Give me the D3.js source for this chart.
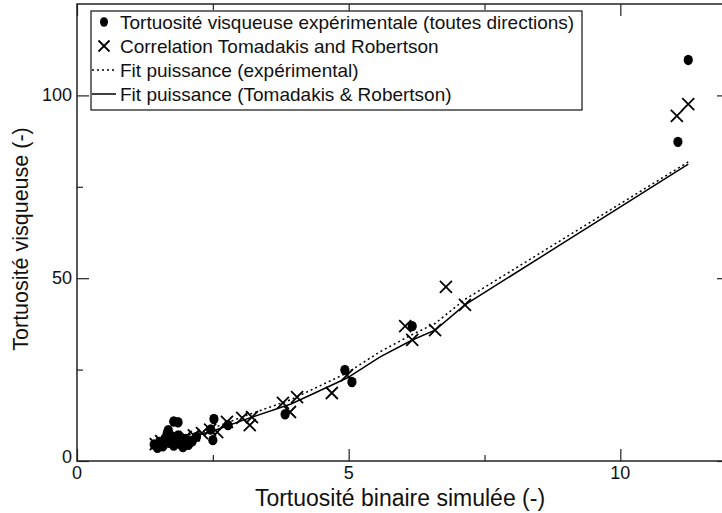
<!DOCTYPE html>
<html>
<head>
<meta charset="utf-8">
<script src="https://cdn.jsdelivr.net/npm/d3@7"></script>
<style>
  html, body { margin: 0; padding: 0; background: #fff; }
  svg { display: block; font-family: "Liberation Sans", Arial, Helvetica, sans-serif; }
</style>
</head>
<body>
<svg id="chart" width="722" height="513"></svg>
<script>
// Experimental viscous tortuosity (all directions)
const expX = [1.42, 1.48, 1.52, 1.58, 1.62, 1.66, 1.70, 1.74, 1.78, 1.82, 1.86, 1.90, 1.95, 2.00, 2.05, 2.12, 1.78, 1.86, 1.68, 2.20, 2.52, 2.50, 2.46, 2.78, 3.83, 4.93, 5.06, 6.17, 11.06, 11.25];
const expY = [4.5, 3.6, 5.2, 4.0, 6.2, 7.6, 5.0, 6.8, 4.2, 5.8, 7.0, 4.6, 3.8, 6.0, 4.4, 5.4, 10.8, 10.6, 8.4, 6.6, 11.5, 5.7, 8.6, 9.8, 12.8, 24.9, 21.6, 36.9, 87.3, 109.7];

// Tomadakis & Robertson correlation
const trX = [1.45, 1.55, 1.65, 1.80, 1.90, 2.00, 2.15, 2.30, 2.45, 2.58, 2.76, 3.04, 3.18, 3.22, 3.79, 3.92, 4.05, 4.69, 4.97, 6.04, 6.17, 6.59, 6.79, 7.14, 11.04, 11.25];
const trY = [4.6, 5.4, 4.8, 6.0, 5.4, 6.6, 7.0, 7.6, 8.6, 7.9, 10.7, 11.8, 9.8, 12.0, 15.9, 13.4, 17.5, 18.6, 23.5, 36.9, 33.1, 35.8, 47.6, 42.7, 94.4, 97.6];

// Power-law fit through the experimental points
const fitExpX = [1.44, 2.50, 3.18, 3.94, 4.97, 5.58, 6.17, 6.59, 7.14, 11.25];
const fitExpY = [4.4, 9.0, 12.8, 16.8, 24.1, 29.9, 34.6, 37.6, 44.2, 81.8];

// Power-law fit through the Tomadakis & Robertson points
const fitTrX = [1.44, 2.50, 3.18, 3.94, 4.97, 5.58, 6.17, 6.59, 7.14, 11.25];
const fitTrY = [4.1, 8.2, 11.8, 15.6, 22.7, 28.5, 33.1, 35.8, 42.7, 81.2];

const xMajor = [0, 5, 10];
const xMinor = [2.5, 7.5];
const yMajor = [0, 50, 100];
const yMinor = [25, 75];

const legendLabels = [
  "Tortuosité visqueuse expérimentale (toutes directions)",
  "Correlation Tomadakis and Robertson",
  "Fit puissance (expérimental)",
  "Fit puissance (Tomadakis & Robertson)"
];
const xTitle = "Tortuosité binaire simulée (-)";
const yTitle = "Tortuosité visqueuse (-)";

const svg = d3.select("#chart");
const plotL = 77, plotR = 729, plotT = 4, plotB = 461;

const x = d3.scaleLinear().domain([0, 12]).range([plotL, plotR]);
const y = d3.scaleLinear().domain([0, 125]).range([plotB, plotT]);

const frameColor = "#222";

// frame with inward ticks on all four sides
svg.append("rect")
  .attr("x", plotL).attr("y", plotT)
  .attr("width", plotR - plotL).attr("height", plotB - plotT)
  .attr("fill", "none").attr("stroke", frameColor).attr("stroke-width", 1.5);

const majorLen = 12, minorLen = 6;
const addAxis = (axisGen, tx, ty, tickVals, len) => {
  const g = svg.append("g").attr("transform", `translate(${tx},${ty})`)
    .call(axisGen.tickValues(tickVals).tickSizeInner(len).tickSizeOuter(0).tickFormat(""));
  g.select(".domain").remove();
  g.selectAll(".tick line").attr("stroke", frameColor).attr("stroke-width", 1.2);
  return g;
};
// bottom (ticks pointing up), top (down), left (right), right (left)
addAxis(d3.axisTop(x), 0, plotB, xMajor, majorLen);
addAxis(d3.axisTop(x), 0, plotB, xMinor, minorLen);
addAxis(d3.axisBottom(x), 0, plotT, xMajor, majorLen);
addAxis(d3.axisBottom(x), 0, plotT, xMinor, minorLen);
addAxis(d3.axisRight(y), plotL, 0, yMajor, majorLen);
addAxis(d3.axisRight(y), plotL, 0, yMinor, minorLen);
addAxis(d3.axisLeft(y), plotR, 0, yMajor, majorLen);
addAxis(d3.axisLeft(y), plotR, 0, yMinor, minorLen);

// tick labels
svg.append("g").selectAll("text").data(xMajor).join("text")
  .attr("x", d => x(d)).attr("y", 479)
  .attr("text-anchor", "middle").attr("font-size", 18).attr("fill", "#111")
  .text(d => d);
svg.append("g").selectAll("text").data(yMajor).join("text")
  .attr("x", 72).attr("y", d => y(d) + (d === 0 ? 2 : 6))
  .attr("text-anchor", "end").attr("font-size", 18).attr("fill", "#111")
  .text(d => d);

// axis titles
svg.append("text").attr("x", 400).attr("y", 506)
  .attr("text-anchor", "middle").attr("font-size", 23).attr("fill", "#111")
  .text(xTitle);
svg.append("text")
  .attr("transform", "translate(28,239) rotate(-90)")
  .attr("text-anchor", "middle").attr("font-size", 21.5).attr("fill", "#111")
  .text(yTitle);

// fit lines
const line = d3.line().x(d => x(d[0])).y(d => y(d[1]));
svg.append("path")
  .datum(d3.zip(fitTrX, fitTrY))
  .attr("d", line).attr("fill", "none").attr("stroke", "#000").attr("stroke-width", 1.5);
svg.append("path")
  .datum(d3.zip(fitExpX, fitExpY))
  .attr("d", line).attr("fill", "none").attr("stroke", "#000").attr("stroke-width", 1.5)
  .attr("stroke-dasharray", "2,3");

// crosses
const crossPath = (cx, cy, s) => `M${cx - s},${cy - s}L${cx + s},${cy + s}M${cx - s},${cy + s}L${cx + s},${cy - s}`;
svg.append("g").selectAll("path").data(d3.zip(trX, trY)).join("path")
  .attr("d", d => crossPath(x(d[0]), y(d[1]), 6))
  .attr("stroke", "#000").attr("stroke-width", 1.8).attr("fill", "none");

// filled circles
svg.append("g").selectAll("ellipse").data(d3.zip(expX, expY)).join("ellipse")
  .attr("cx", d => x(d[0])).attr("cy", d => y(d[1]))
  .attr("rx", 4.6).attr("ry", 5.2).attr("fill", "#000");

// legend
const lg = svg.append("g");
lg.append("rect").attr("x", 91).attr("y", 11).attr("width", 491).attr("height", 99)
  .attr("fill", "#fff").attr("stroke", "#111").attr("stroke-width", 1.2);
const rowY = [22, 46, 70, 94];
lg.append("ellipse").attr("cx", 104).attr("cy", rowY[0]).attr("rx", 4).attr("ry", 4.8).attr("fill", "#000");
lg.append("path").attr("d", crossPath(104, rowY[1], 5.5)).attr("stroke", "#000").attr("stroke-width", 1.8);
lg.append("line").attr("x1", 92).attr("x2", 116).attr("y1", rowY[2]).attr("y2", rowY[2])
  .attr("stroke", "#000").attr("stroke-width", 1.5).attr("stroke-dasharray", "2,3");
lg.append("line").attr("x1", 92).attr("x2", 116).attr("y1", rowY[3]).attr("y2", rowY[3])
  .attr("stroke", "#000").attr("stroke-width", 1.5);
lg.selectAll("text.lbl").data(legendLabels).join("text")
  .attr("class", "lbl")
  .attr("x", 120).attr("y", (d, i) => rowY[i] + 6.5)
  .attr("font-size", 19).attr("fill", "#111")
  .text(d => d);
</script>
</body>
</html>
